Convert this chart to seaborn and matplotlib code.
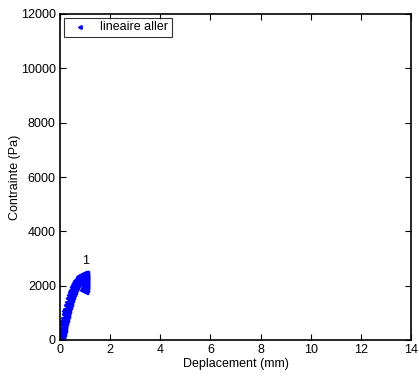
import matplotlib
matplotlib.use("Agg")
import seaborn as sns
import matplotlib.pyplot as plt

# loading curve (mm, Pa)
deplacement = [0.00, 0.02, 0.04, 0.06, 0.08, 0.10, 0.13, 0.16, 0.19, 0.22,
               0.25, 0.28, 0.32, 0.36, 0.40, 0.44, 0.48, 0.52, 0.56, 0.60,
               0.64, 0.68, 0.72, 0.76, 0.80, 0.84, 0.88, 0.92, 0.96, 1.00,
               0.995, 0.99, 0.985, 0.98, 0.975]
contrainte = [0, 95, 188, 279, 369, 456, 583, 707, 825, 940,
              1050, 1156, 1290, 1417, 1536, 1647, 1751, 1847, 1935, 2016,
              2089, 2154, 2212, 2262, 2304, 2339, 2365, 2385, 2396, 2400,
              2280, 2160, 2040, 1920, 1850]
serie = "lineaire aller"
pas_label = "1"
xticks = [0, 2, 4, 6, 8, 10, 12, 14]
yticks = [0, 2000, 4000, 6000, 8000, 10000, 12000]

sns.set_style("ticks")
plt.rcParams['font.family'] = ['Liberation Sans', 'DejaVu Sans']
plt.rcParams['xtick.direction'] = 'in'
plt.rcParams['ytick.direction'] = 'in'
for k in ['text.color', 'axes.labelcolor', 'xtick.color', 'ytick.color']:
    plt.rcParams[k] = 'black'

fig, ax = plt.subplots(figsize = (4.19, 3.77), dpi = 100)
fig.subplots_adjust(left = 60 / 419, right = 411 / 419, bottom = 1 - 340 / 377, top = 1 - 14 / 377)

sns.scatterplot(x = deplacement, y = contrainte, ax = ax, marker = '<', s = 28,
                color = '#0000ff', edgecolor = '#0000ff', linewidth = 1.6, label = serie)
ax.text(1.0, 2700, pas_label, ha = 'center', va = 'bottom', fontsize = 9)

ax.set_xlim(0, 14)
ax.set_ylim(0, 12000)
ax.set_xticks(xticks)
ax.set_yticks(yticks)
ax.tick_params(top = True, right = True, length = 4, width = 0.8, labelsize = 9, pad = 3)
for s in ax.spines.values():
    s.set_visible(True)
    s.set_linewidth(1.2)
    s.set_color('black')
ax.set_xlabel('Deplacement (mm)', fontsize = 9, labelpad = 1)
ax.set_ylabel('Contrainte (Pa)', fontsize = 9, labelpad = 0)

leg = ax.legend(loc = 'upper left', fontsize = 9, frameon = True, fancybox = False,
                borderaxespad = 0.3, handletextpad = 0.6, borderpad = 0.3, markerscale = 0.35)
leg.get_frame().set_edgecolor('black')
leg.get_frame().set_linewidth(0.8)

fig.savefig('out.png', dpi = 100)
